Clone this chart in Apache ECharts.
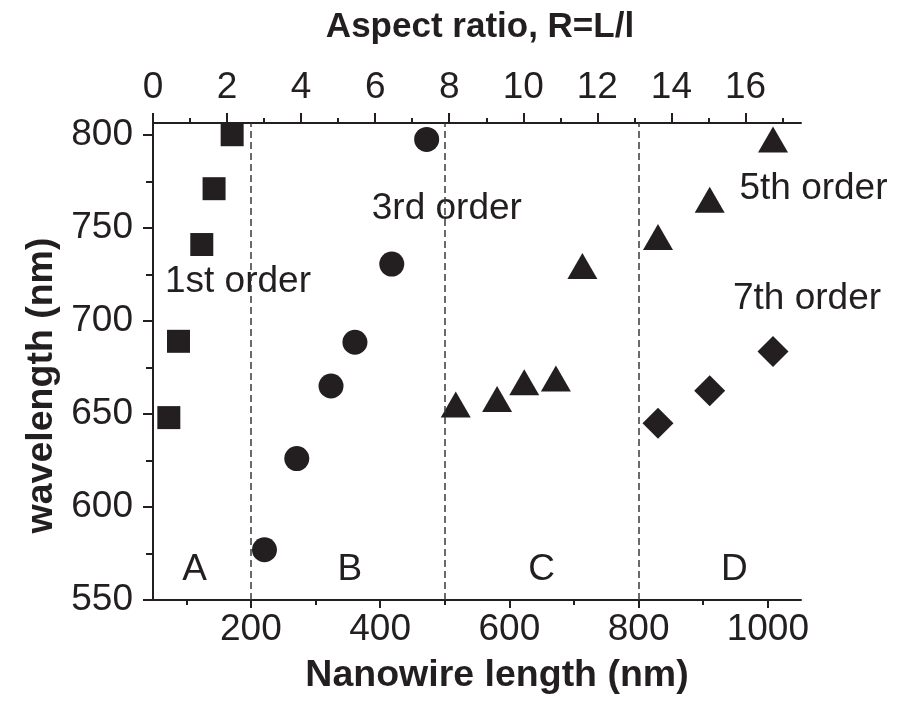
<!DOCTYPE html>
<html>
<head>
<meta charset="utf-8">
<script src="https://cdn.jsdelivr.net/npm/echarts@6/dist/echarts.min.js"></script>
<style>
  html, body { margin: 0; padding: 0; background: #ffffff; }
  #chart { width: 912px; height: 701px; }
</style>
</head>
<body>
<div id="chart"></div>
<script>
// Resonance wavelength versus nanowire length for odd-order plasmon modes

// Nanowire length (nm) and resonance wavelength (nm) per mode order
const order1Length = [73, 88, 124, 143, 171];
const order1Wave   = [648, 689, 741, 771, 800];
const order3Length = [221, 271, 324, 361, 418, 472];
const order3Wave   = [577, 626, 665, 688.5, 730.5, 797.5];
const order5Length = [517, 581, 623, 672, 713, 830, 910, 1008];
const order5Wave   = [655, 658, 667, 669, 729.5, 745, 765, 797.5];
const order7Length = [830, 910, 1008];
const order7Wave   = [645, 662.5, 683.5];

// Length regions separated by dashed lines
const regionBounds = [200, 500, 800];
const regionNames  = ['A', 'B', 'C', 'D'];
const regionLabelX = [113, 353, 650, 948];
const regionLabelY = [566, 566, 566, 566];

// Mode-order annotations (anchored at the left edge of the text)
const orderNames  = ['1st order', '3rd order', '5th order', '7th order'];
const orderLabelX = [67, 387, 956, 946];
const orderLabelY = [721, 760, 771, 712];

// Tick positions
const lengthTicks      = [200, 400, 600, 800, 1000];
const lengthMinorTicks = [100, 300, 500, 700, 900];
const waveTicks        = [550, 600, 650, 700, 750, 800];
const waveMinorTicks   = [575, 625, 675, 725, 775];
const ratioTicks       = [0, 2, 4, 6, 8, 10, 12, 14, 16];
const ratioMinorTicks  = [1, 3, 5, 7, 9, 11, 13, 15, 17];

// Axis ranges
const lengthRange = [48.5, 1051.3];
const waveRange   = [550, 806.3];
const ratioRange  = [0, 17.5];

const INK  = '#231f20';
const FONT = '"Liberation Sans", Arial, Helvetica, sans-serif';

const zip = (xs, ys) => xs.map((x, i) => [x, ys[i]]);
const zipText = (xs, ys, t) => xs.map((x, i) => [x, ys[i], t[i]]);
const plain = v => String(v);

const lineStyle = { color: INK, width: 2 };
const tickLabel = { color: INK, fontFamily: FONT, fontSize: 37, formatter: plain };
const nameStyle = { color: INK, fontFamily: FONT, fontWeight: 'bold' };
const markStyle = { color: INK, opacity: 1 };

const chart = echarts.init(document.getElementById('chart'), null, { renderer: 'canvas' });

chart.setOption({
  animation: false,
  backgroundColor: '#ffffff',
  grid: { left: 153, right: 111, top: 123, bottom: 101, containLabel: false },
  xAxis: [
    {
      type: 'value', position: 'bottom', min: lengthRange[0], max: lengthRange[1],
      name: 'Nanowire length (nm)', nameLocation: 'middle', nameGap: 57,
      nameTextStyle: Object.assign({ fontSize: 37.5, padding: [0, 0, 0, 40] }, nameStyle),
      axisLine: { show: true, lineStyle: lineStyle },
      axisTick: { show: true, inside: false, length: 8, lineStyle: lineStyle, customValues: lengthTicks },
      axisLabel: Object.assign({ show: true, margin: 11, customValues: lengthTicks }, tickLabel),
      splitLine: { show: false }
    },
    {
      type: 'value', position: 'bottom', min: lengthRange[0], max: lengthRange[1],
      axisLine: { show: false },
      axisTick: { show: true, inside: false, length: 5, lineStyle: lineStyle, customValues: lengthMinorTicks },
      axisLabel: { show: false },
      splitLine: { show: false }
    },
    {
      type: 'value', position: 'top', min: ratioRange[0], max: ratioRange[1],
      name: 'Aspect ratio, R=L/l', nameLocation: 'middle', nameGap: 78,
      nameTextStyle: Object.assign({ fontSize: 35, padding: [0, 0, 0, 6] }, nameStyle),
      axisLine: { show: true, lineStyle: lineStyle },
      axisTick: { show: true, inside: false, length: 10, lineStyle: lineStyle, customValues: ratioTicks },
      axisLabel: Object.assign({ show: true, margin: 17, customValues: ratioTicks }, tickLabel),
      splitLine: { show: false }
    },
    {
      type: 'value', position: 'top', min: ratioRange[0], max: ratioRange[1],
      axisLine: { show: false },
      axisTick: { show: true, inside: false, length: 5, lineStyle: lineStyle, customValues: ratioMinorTicks },
      axisLabel: { show: false },
      splitLine: { show: false }
    }
  ],
  yAxis: [
    {
      type: 'value', position: 'left', min: waveRange[0], max: waveRange[1],
      name: 'wavelength (nm)', nameLocation: 'middle', nameGap: 91, nameRotate: 90,
      nameTextStyle: Object.assign({ fontSize: 37.5, padding: [0, 48, 0, 0] }, nameStyle),
      axisLine: { show: true, lineStyle: lineStyle },
      axisTick: { show: true, inside: false, length: 10, lineStyle: lineStyle, customValues: waveTicks },
      axisLabel: Object.assign({ show: true, margin: 20, customValues: waveTicks }, tickLabel),
      splitLine: { show: false }
    },
    {
      type: 'value', position: 'left', min: waveRange[0], max: waveRange[1],
      axisLine: { show: false },
      axisTick: { show: true, inside: false, length: 7, lineStyle: lineStyle, customValues: waveMinorTicks },
      axisLabel: { show: false },
      splitLine: { show: false }
    }
  ],
  series: [
    {
      name: 'regions', type: 'line', xAxisIndex: 0, yAxisIndex: 0, data: [],
      markLine: {
        silent: true, symbol: 'none', label: { show: false },
        lineStyle: { color: '#3a3a3a', width: 1.5, type: [7, 4], opacity: 1 },
        data: regionBounds.map(v => ({ xAxis: v }))
      }
    },
    {
      name: '1st order', type: 'scatter', xAxisIndex: 0, yAxisIndex: 0,
      symbol: 'rect', symbolSize: 23, itemStyle: markStyle,
      data: zip(order1Length, order1Wave)
    },
    {
      name: '3rd order', type: 'scatter', xAxisIndex: 0, yAxisIndex: 0,
      symbol: 'circle', symbolSize: 25, itemStyle: markStyle,
      data: zip(order3Length, order3Wave)
    },
    {
      name: '5th order', type: 'scatter', xAxisIndex: 0, yAxisIndex: 0,
      symbol: 'triangle', symbolSize: [30, 26], itemStyle: markStyle,
      data: zip(order5Length, order5Wave)
    },
    {
      name: '7th order', type: 'scatter', xAxisIndex: 0, yAxisIndex: 0,
      symbol: 'diamond', symbolSize: [31, 31], itemStyle: markStyle,
      data: zip(order7Length, order7Wave)
    },
    {
      name: 'order labels', type: 'scatter', xAxisIndex: 0, yAxisIndex: 0,
      symbolSize: 0, silent: true, clip: false, itemStyle: markStyle,
      label: {
        show: true, position: 'right', distance: 0,
        formatter: p => p.value[2],
        color: INK, opacity: 1, fontFamily: FONT, fontSize: 37
      },
      data: zipText(orderLabelX, orderLabelY, orderNames)
    },
    {
      name: 'region labels', type: 'scatter', xAxisIndex: 0, yAxisIndex: 0,
      symbolSize: 0, silent: true, clip: false, itemStyle: markStyle,
      label: {
        show: true, position: 'inside',
        formatter: p => p.value[2],
        color: INK, opacity: 1, fontFamily: FONT, fontSize: 37
      },
      data: zipText(regionLabelX, regionLabelY, regionNames)
    }
  ]
});
</script>
</body>
</html>
